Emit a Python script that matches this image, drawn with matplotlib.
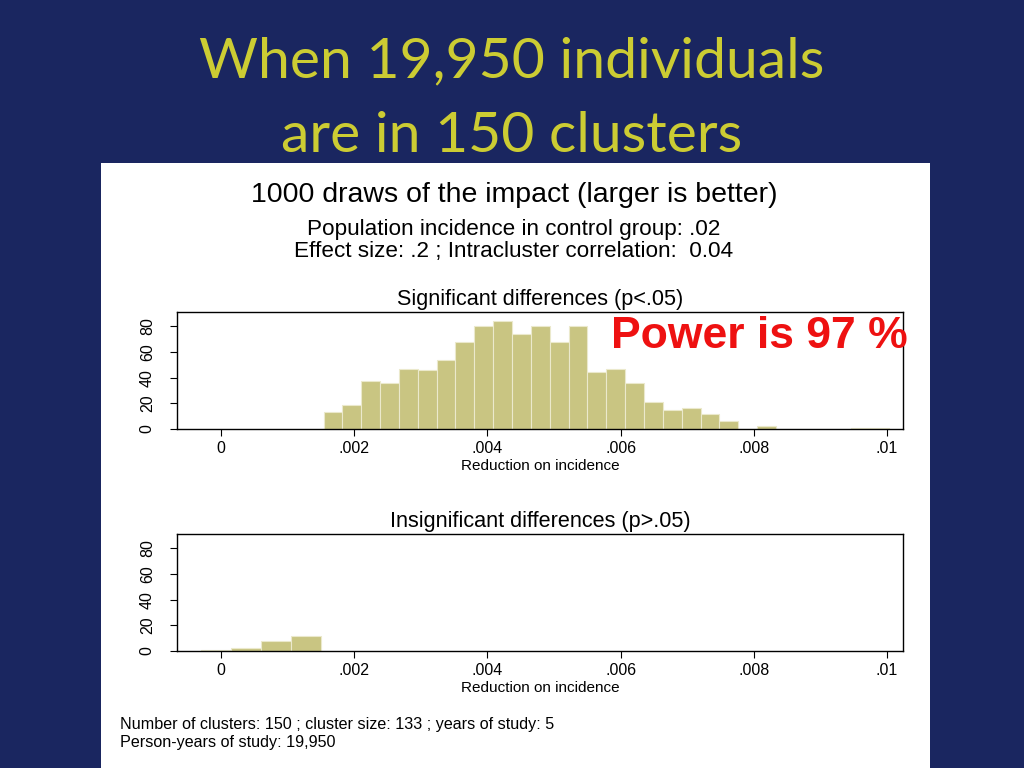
import matplotlib
matplotlib.use("Agg")
import matplotlib.pyplot as plt
from matplotlib.patches import Rectangle

# Daten
sig_bin_start = 0.00154
sig_bin_width = 0.000283
sig_counts = [13, 19, 37, 36, 47, 46, 54, 68, 80, 84, 74, 80, 68, 80, 44,
              47, 36, 21, 15, 16, 12, 6, 0, 2, 0, 0, 0, 0, 1, 1]

insig_bin_start = -0.0003
insig_bin_width = 0.00045
insig_counts = [1, 2.5, 7.5, 11.5]

x_ticks = [0, 0.002, 0.004, 0.006, 0.008, 0.01]
x_ticklabels = ["0", ".002", ".004", ".006", ".008", ".01"]
y_ticks = [0, 20, 40, 60, 80]

title_lines = ["When 19,950 individuals", "are in 150 clusters"]
main_title = "1000 draws of the impact (larger is better)"
subtitle = ["Population incidence in control group: .02",
            "Effect size: .2 ; Intracluster correlation:  0.04"]
note = ["Number of clusters: 150 ; cluster size: 133 ; years of study: 5",
        "Person-years of study: 19,950"]

bg = "#1a2660"
bar_color = "#c9c582"
W, H = 1024, 768

plt.rcParams['font.family'] = ['Liberation Sans', 'DejaVu Sans']

fig = plt.figure(figsize=(10.24, 7.68), dpi=100, facecolor=bg)

# weisses Feld (hinter den Achsen)
fig.patches.append(Rectangle((101 / W, 0), (930 - 101) / W, 1 - 163 / H,
                             transform=fig.transFigure, facecolor="white",
                             edgecolor="none", zorder=-10))

# Folientitel
fig.text(0.5, 1 - 62 / H, title_lines[0], ha="center", va="center",
         fontsize=41, color="#cccc33", family=["Lato", "DejaVu Sans"])
fig.text(0.5, 1 - 137 / H, title_lines[1], ha="center", va="center",
         fontsize=41, color="#cccc33", family=["Lato", "DejaVu Sans"])

fig.text(514 / W, 1 - 195 / H, main_title, ha="center", va="center",
         fontsize=20.5, color="black")
fig.text(514 / W, 1 - 230 / H, subtitle[0], ha="center", va="center",
         fontsize=16.2, color="black")
fig.text(514 / W, 1 - 252 / H, subtitle[1], ha="center", va="center",
         fontsize=16.2, color="black")


def draw_hist(ax, start, width, counts, title):
    lefts = [start + i * width for i in range(len(counts))]
    ax.bar(lefts, counts, width=width, align="edge", color=bar_color,
           edgecolor="#ebe9cc", linewidth=0.8)
    ax.set_xlim(-0.00066, 0.01024)
    ax.set_ylim(0, 91)
    ax.set_xticks(x_ticks)
    ax.set_xticklabels(x_ticklabels)
    ax.set_yticks(y_ticks)
    ax.set_yticklabels([str(v) for v in y_ticks], rotation=90, va="center")
    for s in ax.spines.values():
        s.set_linewidth(1.0)
    ax.tick_params(axis="x", labelsize=11.5, length=5, width=0.8, pad=3.5)
    ax.tick_params(axis="y", labelsize=11.5, length=5, width=0.8, pad=11)
    ax.set_xlabel("Reduction on incidence", fontsize=11, labelpad=2)
    ax.set_title(title, fontsize=15.6, pad=5)
    ax.set_facecolor("white")


ax1 = fig.add_axes([177 / W, 1 - 429 / H, 726 / W, 117 / H])
draw_hist(ax1, sig_bin_start, sig_bin_width, sig_counts,
          "Significant differences (p<.05)")

ax2 = fig.add_axes([177 / W, 1 - 651 / H, 726 / W, 117 / H])
draw_hist(ax2, insig_bin_start, insig_bin_width, insig_counts,
          "Insignificant differences (p>.05)")

fig.text(759 / W, 1 - 336 / H, "Power is 97 %", ha="center", va="center",
         fontsize=32, fontweight="bold", color="#ee1111")

fig.text(120 / W, 1 - 725 / H, note[0], ha="left", va="center", fontsize=11.6)
fig.text(120 / W, 1 - 742 / H, note[1], ha="left", va="center", fontsize=11.6)

fig.savefig("out.png", dpi=100, facecolor=bg)
